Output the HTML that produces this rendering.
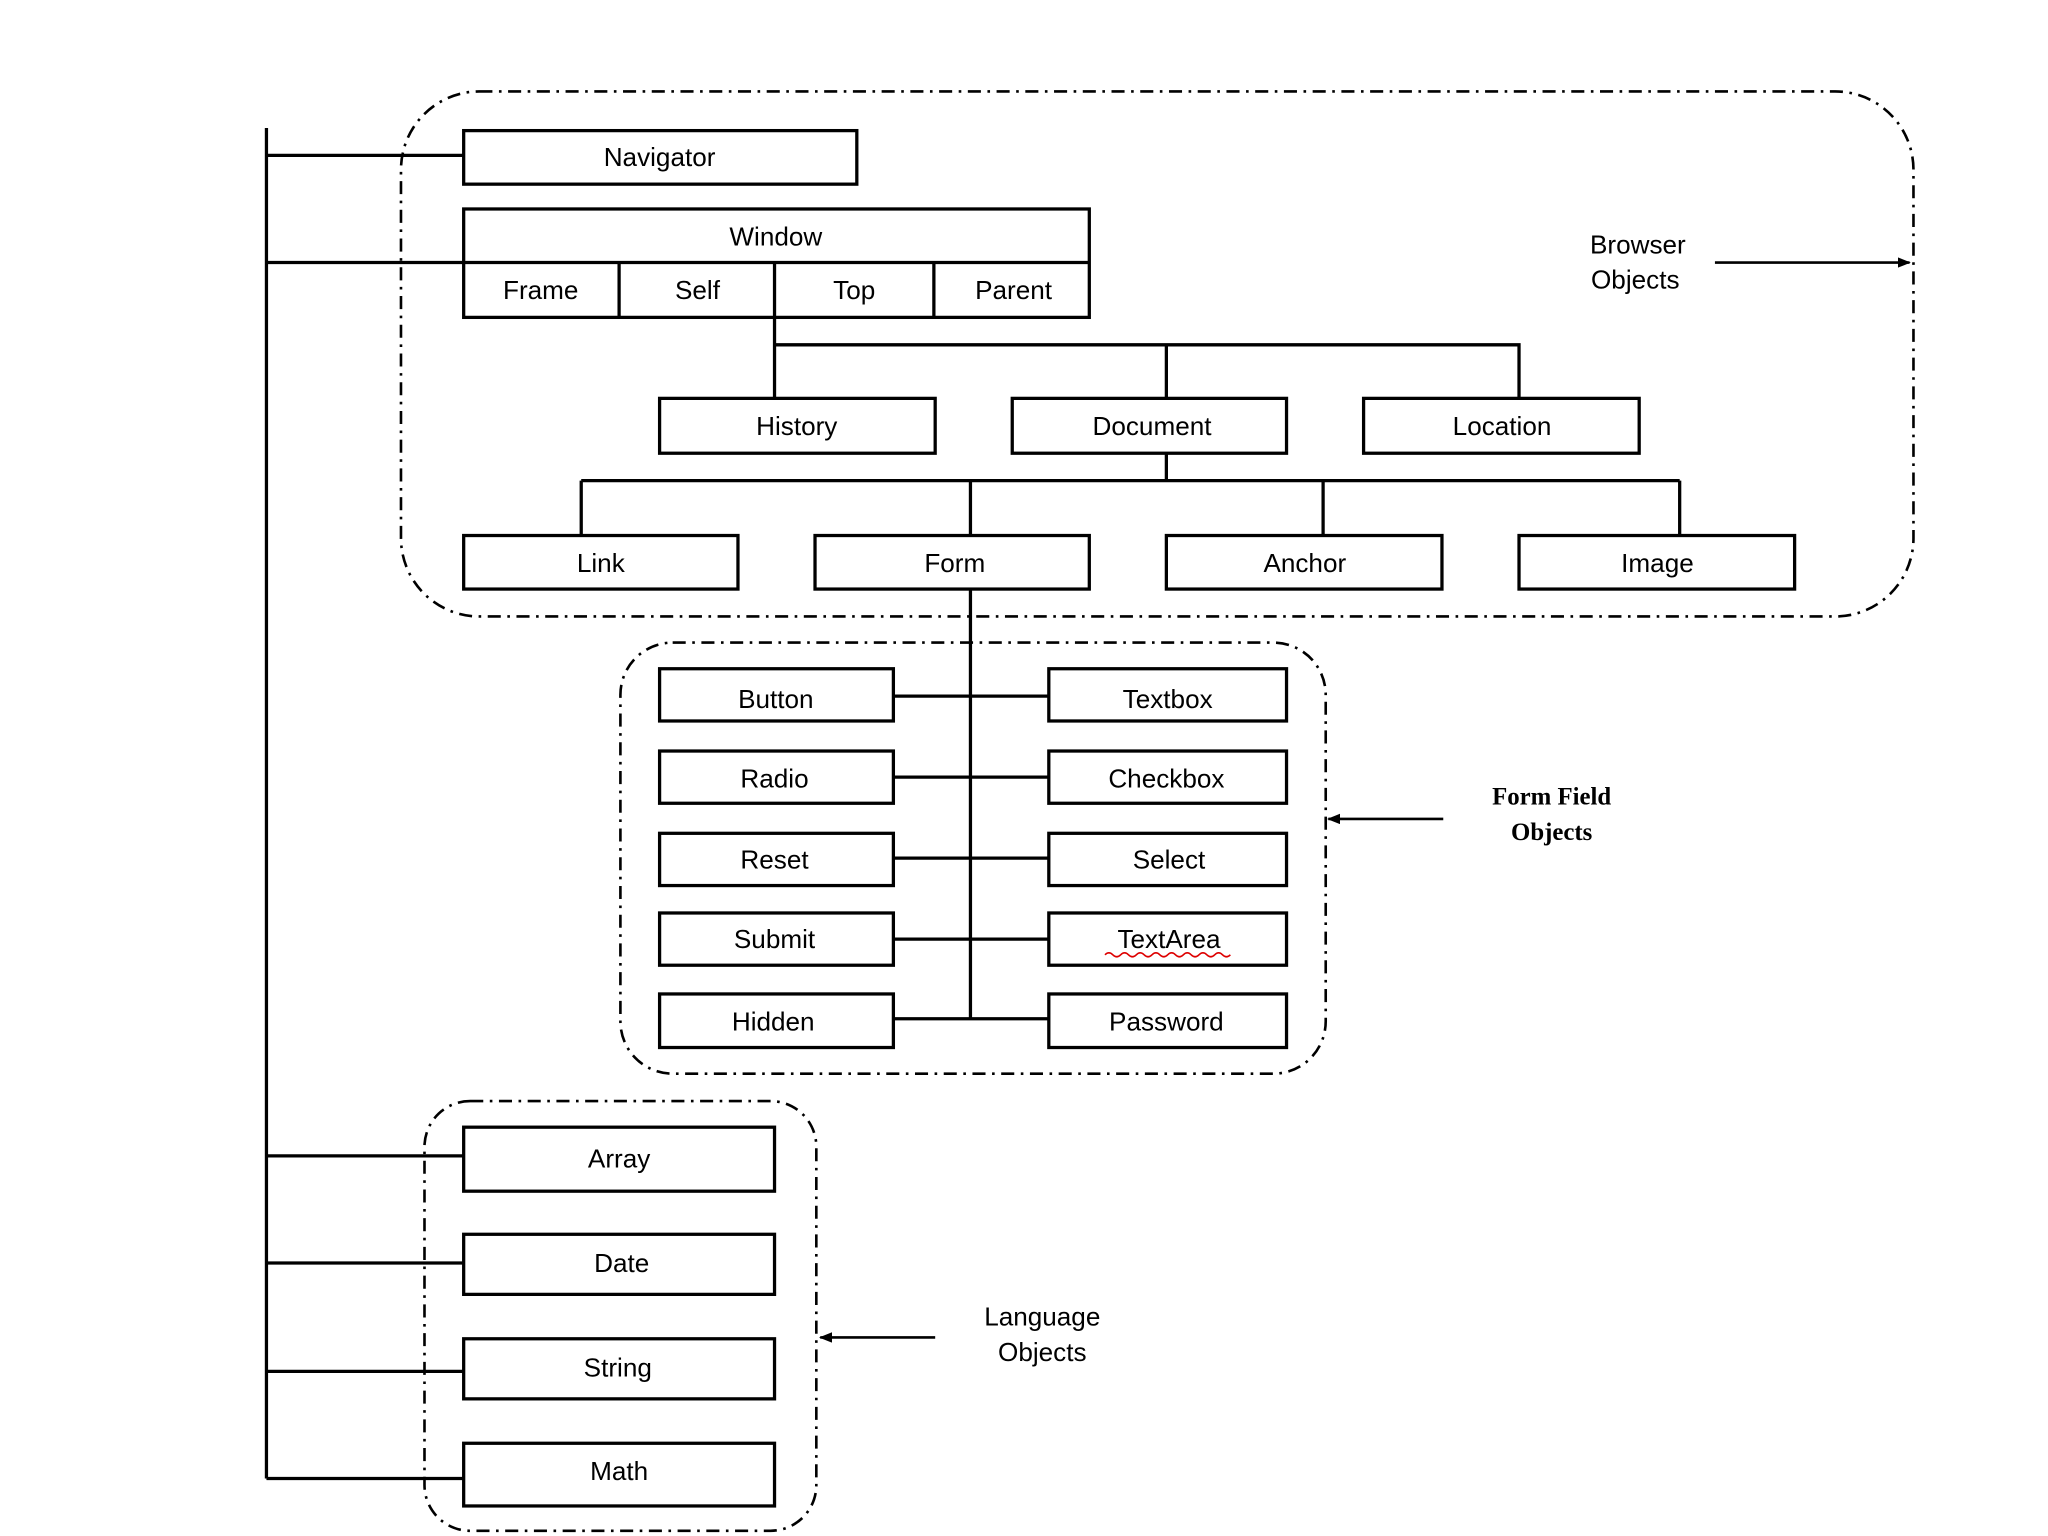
<!DOCTYPE html>
<html><head><style>html,body{margin:0;padding:0;background:#fff}svg{display:block}</style></head><body>
<svg width="2048" height="1536" viewBox="0 0 1568 1176" preserveAspectRatio="none" xmlns="http://www.w3.org/2000/svg" font-family="Liberation Sans, sans-serif" font-size="20">
<defs><marker id="a" markerWidth="10" markerHeight="8" refX="9" refY="4" orient="auto" markerUnits="userSpaceOnUse"><path d="M0,0 L10,4 L0,8z" fill="#000"/></marker></defs>
<g fill="none" stroke="#000" stroke-width="2" stroke-dasharray="10,5,2,5">
<rect x="307" y="70" width="1158" height="402" rx="60"/>
<rect x="475" y="492" width="540" height="330" rx="40"/>
<rect x="325" y="843" width="300" height="329" rx="35"/>
</g>
<g fill="none" stroke="#000" stroke-width="2.5">
<path d="M204 98V1132M204 119H355M204 201H355M204 885H355M204 967H355M204 1050H355M204 1132H355"/>
<path d="M593 243V305M593 264H1163V305M893 264V305M893 347V368M445 368H1286M445 368V410M743 368V410M1013 368V410M1286 368V410"/>
<path d="M743 451V780M684 533H803M684 595H803M684 657H803M684 719H803M684 780H803"/>
<rect x="355" y="100" width="301" height="41"/>
<rect x="355" y="160" width="479" height="83"/>
<path d="M355 201H834M474 201V243M593 201V243M715 201V243"/>
<rect x="505" y="305" width="211" height="42"/><rect x="775" y="305" width="210" height="42"/><rect x="1044" y="305" width="211" height="42"/>
<rect x="355" y="410" width="210" height="41"/><rect x="624" y="410" width="210" height="41"/><rect x="893" y="410" width="211" height="41"/><rect x="1163" y="410" width="211" height="41"/>
<rect x="505" y="512" width="179" height="40"/><rect x="803" y="512" width="182" height="40"/>
<rect x="505" y="575" width="179" height="40"/><rect x="803" y="575" width="182" height="40"/>
<rect x="505" y="638" width="179" height="40"/><rect x="803" y="638" width="182" height="40"/>
<rect x="505" y="699" width="179" height="40"/><rect x="803" y="699" width="182" height="40"/>
<rect x="505" y="761" width="179" height="41"/><rect x="803" y="761" width="182" height="41"/>
<rect x="355" y="863" width="238" height="49"/><rect x="355" y="945" width="238" height="46"/><rect x="355" y="1025" width="238" height="46"/><rect x="355" y="1105" width="238" height="48"/>
</g>
<g stroke="#000" stroke-width="2" marker-end="url(#a)">
<line x1="1313" y1="201" x2="1462" y2="201"/>
<line x1="1105" y1="627" x2="1017" y2="627"/>
<line x1="716" y1="1024" x2="628" y2="1024"/>
</g>
<g text-anchor="middle" fill="#000">
<text x="505" y="127">Navigator</text>
<text x="594" y="188">Window</text>
<text x="414" y="229">Frame</text><text x="534" y="229">Self</text><text x="654" y="229">Top</text><text x="776" y="229">Parent</text>
<text x="610" y="333">History</text><text x="882" y="333">Document</text><text x="1150" y="333">Location</text>
<text x="460" y="438">Link</text><text x="731" y="438">Form</text><text x="999" y="438">Anchor</text><text x="1269" y="438">Image</text>
<text x="594" y="542">Button</text><text x="894" y="542">Textbox</text>
<text x="593" y="603">Radio</text><text x="893" y="603">Checkbox</text>
<text x="593" y="665">Reset</text><text x="895" y="665">Select</text>
<text x="593" y="726">Submit</text><text x="895" y="726">TextArea</text>
<text x="592" y="789">Hidden</text><text x="893" y="789">Password</text>
<text x="474" y="894">Array</text><text x="476" y="974">Date</text><text x="473" y="1054">String</text><text x="474" y="1133">Math</text>
<text x="1254" y="194">Browser</text><text x="1252" y="221">Objects</text>
<text x="798" y="1015">Language</text><text x="798" y="1042">Objects</text>
<g font-family="Liberation Serif, serif" font-weight="bold" font-size="19"><text x="1188" y="616">Form Field</text><text x="1188" y="643">Objects</text></g>
</g>
<path d="M846 731q3-3 6 0t6 0t6 0t6 0t6 0t6 0t6 0t6 0t6 0t6 0t6 0t6 0t6 0t6 0t6 0t6 0" fill="none" stroke="#d00" stroke-width="1.2"/>
</svg>
</body></html>
